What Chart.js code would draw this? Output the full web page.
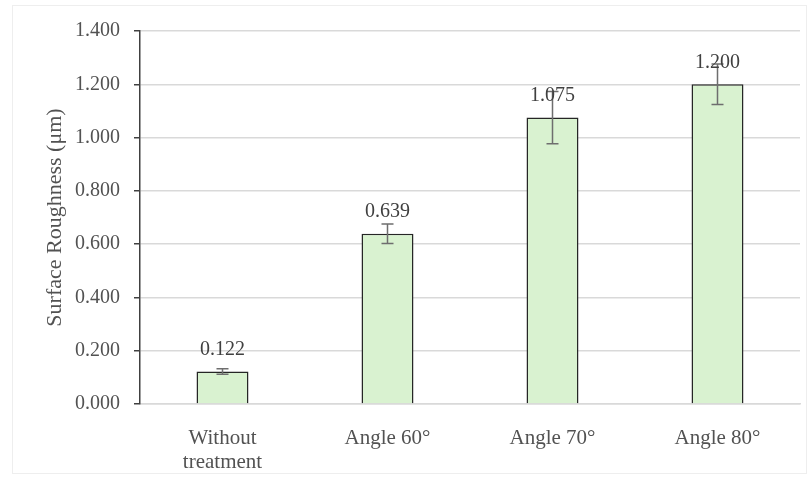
<!DOCTYPE html>
<html lang="en">
<head>
  <meta charset="UTF-8">
  <title>Surface Roughness</title>
  <script src="https://cdn.jsdelivr.net/npm/chart.js"></script>
  <style>
    body { margin: 0; background: #fff; }
    .wrap { position: relative; width: 811px; height: 477px; }
    .frame {
      position: absolute; left: 12px; top: 5px; width: 793px; height: 467px;
      border: 1px solid #eeeeee; pointer-events: none;
    }
  </style>
</head>
<body>
  <div class="wrap">
    <canvas id="chart" width="811" height="477"></canvas>
    <div class="frame"></div>
  </div>
  <script>
    const categories = [['Without', 'treatment'], 'Angle 60°', 'Angle 70°', 'Angle 80°'];
    const roughness = [0.122, 0.639, 1.075, 1.200];
    const errors = [0.010, 0.037, 0.098, 0.076];
    const yTicks = [0, 0.2, 0.4, 0.6, 0.8, 1.0, 1.2, 1.4];

    const font = 'Liberation Serif';
    const textColor = '#525252';

    // error bars + value labels drawn on top of the bars
    const extras = {
      id: 'extras',
      afterDatasetsDraw(chart) {
        const ctx = chart.ctx;
        const y = chart.scales.y;
        const meta = chart.getDatasetMeta(0);
        ctx.save();
        meta.data.forEach((bar, i) => {
          const v = roughness[i];
          const top = y.getPixelForValue(v + errors[i]);
          const bot = y.getPixelForValue(v - errors[i]);
          ctx.strokeStyle = '#6e6e6e';
          ctx.lineWidth = 1.5;
          ctx.beginPath();
          ctx.moveTo(bar.x, top); ctx.lineTo(bar.x, bot);
          ctx.moveTo(bar.x - 6, top); ctx.lineTo(bar.x + 6, top);
          ctx.moveTo(bar.x - 6, bot); ctx.lineTo(bar.x + 6, bot);
          ctx.stroke();

          ctx.fillStyle = '#404040';
          ctx.font = '20px "' + font + '"';
          ctx.textAlign = 'center';
          ctx.textBaseline = 'bottom';
          ctx.fillText(v.toFixed(3), bar.x, bar.y - 12);
        });
        ctx.restore();
      }
    };

    new Chart(document.getElementById('chart'), {
      type: 'bar',
      data: {
        labels: categories,
        datasets: [{
          data: roughness,
          backgroundColor: '#d9f2d0',
          borderColor: '#262626',
          borderWidth: 1.5,
          borderSkipped: 'bottom',
          categoryPercentage: 1,
          barPercentage: 0.315
        }]
      },
      options: {
        responsive: false,
        animation: false,
        layout: { padding: { top: 31, right: 11, left: 0, bottom: 0 } },
        plugins: {
          legend: { display: false },
          tooltip: { enabled: false }
        },
        scales: {
          x: {
            grid: { display: false },
            border: { color: '#d9d9d9', width: 1.5 },
            ticks: {
              color: textColor,
              font: { family: font, size: 21, lineHeight: 1.15 },
              padding: 14,
              maxRotation: 0
            },
            afterFit(s) { s.height = 73; }
          },
          y: {
            min: 0,
            max: 1.4,
            afterBuildTicks(s) { s.ticks = yTicks.map(v => ({ value: v })); },
            grid: { color: '#d9d9d9', tickColor: '#404040', tickLength: 6, lineWidth: 1.5 },
            border: { color: '#404040', width: 1.5 },
            ticks: {
              color: textColor,
              font: { family: font, size: 20 },
              padding: 14,
              callback: v => Number(v).toFixed(3)
            },
            title: {
              display: true,
              text: 'Surface Roughness (μm)',
              color: textColor,
              font: { family: font, size: 22, lineHeight: 1.2 },
              padding: { top: 42, bottom: 0 }
            },
            afterFit(s) { s.width = 140; }
          }
        }
      },
      plugins: [extras]
    });
  </script>
</body>
</html>
